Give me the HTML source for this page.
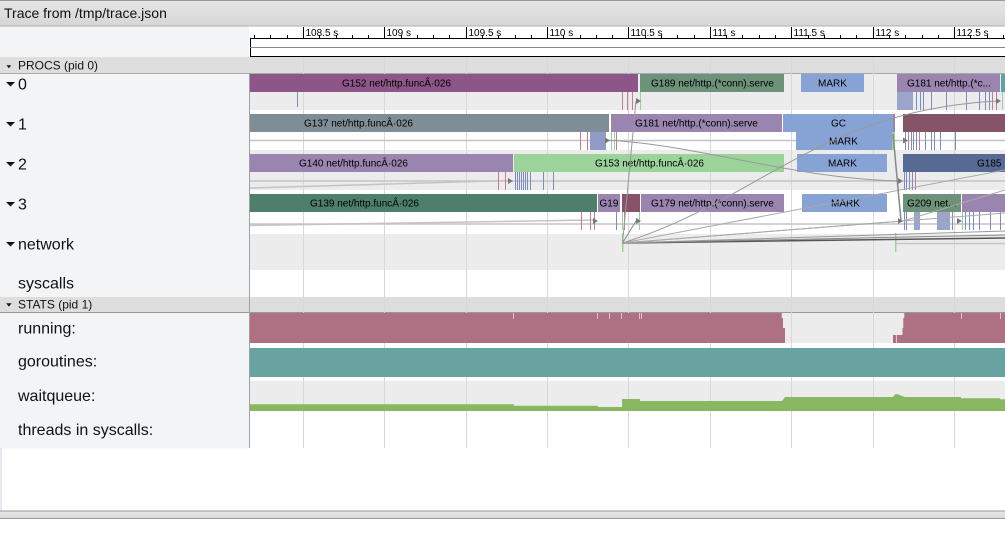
<!DOCTYPE html>
<html>
<head>
<meta charset="utf-8">
<style>
html,body{margin:0;padding:0;background:#fff;overflow:hidden;}
svg{display:block;}
text{font-family:"Liberation Sans",Arial,sans-serif;}
</style>
</head>
<body>
<svg width="1005" height="533" viewBox="0 0 1005 533" xmlns="http://www.w3.org/2000/svg">
<defs>
<linearGradient id="tg" x1="0" y1="0" x2="0" y2="1">
<stop offset="0" stop-color="#e6e6e6"/><stop offset="1" stop-color="#d6d6d6"/>
</linearGradient>
<linearGradient id="bg2" x1="0" y1="0" x2="0" y2="1">
<stop offset="0" stop-color="#e8e8e8"/><stop offset="1" stop-color="#d8d8d8"/>
</linearGradient>
</defs>

<!-- title bar -->
<rect x="0" y="0" width="1005" height="26" fill="url(#tg)"/>
<line x1="0" y1="0.5" x2="1005" y2="0.5" stroke="#9a9a9a"/>
<line x1="0" y1="26" x2="1005" y2="26" stroke="#b0b0b0"/>
<text x="4" y="18" font-size="14" fill="#111">Trace from /tmp/trace.json</text>

<!-- left panel bg -->
<rect x="0" y="26.5" width="249" height="422" fill="#f3f4f6"/>

<!-- ruler -->
<rect x="250" y="26.5" width="755" height="30" fill="#fff"/>
<g stroke="#000" stroke-width="1" shape-rendering="crispEdges">
<line x1="250" y1="38.5" x2="1005" y2="38.5"/>
<line x1="250" y1="56.5" x2="1005" y2="56.5"/>
<line x1="250.5" y1="38" x2="250.5" y2="57"/>
</g>
<line x1="250" y1="47.5" x2="1005" y2="47.5" stroke="#8a8a8a" shape-rendering="crispEdges"/>
<path stroke="#000" stroke-width="1" shape-rendering="crispEdges" fill="none" d="
M254.5 35V38 M270.5 35V38 M287.5 35V38
M319.5 35V38 M336.5 35V38 M352.5 35V38 M368.5 35V38
M401.5 35V38 M417.5 35V38 M433.5 35V38 M449.5 35V38
M482.5 35V38 M498.5 35V38 M515.5 35V38 M531.5 35V38
M563.5 35V38 M580.5 35V38 M596.5 35V38 M612.5 35V38
M645.5 35V38 M661.5 35V38 M677.5 35V38 M694.5 35V38
M726.5 35V38 M742.5 35V38 M759.5 35V38 M775.5 35V38
M808.5 35V38 M824.5 35V38 M840.5 35V38 M856.5 35V38
M889.5 35V38 M905.5 35V38 M922.5 35V38 M938.5 35V38
M970.5 35V38 M987.5 35V38 M1003.5 35V38
M303.5 27V38 M384.5 27V38 M466.5 27V38 M547.5 27V38 M628.5 27V38
M710.5 27V38 M791.5 27V38 M873.5 27V38 M954.5 27V38"/>
<g font-size="10" fill="#000">
<text x="305.5" y="36">108.5 s</text>
<text x="386.5" y="36">109 s</text>
<text x="468.5" y="36">109.5 s</text>
<text x="549.5" y="36">110 s</text>
<text x="630.5" y="36">110.5 s</text>
<text x="712.5" y="36">111 s</text>
<text x="793.5" y="36">111.5 s</text>
<text x="875.5" y="36">112 s</text>
<text x="956.5" y="36">112.5 s</text>
</g>

<!-- PROCS header -->
<rect x="0" y="57" width="1005" height="16" fill="#dedede"/>
<line x1="0" y1="73.5" x2="1005" y2="73.5" stroke="#a8a8a8" shape-rendering="crispEdges"/>
<path d="M6.5 65.3 L11.2 65.3 L8.85 68.2 Z" fill="#111"/>
<text x="18" y="69.5" font-size="12" fill="#111">PROCS (pid 0)</text>

<!-- row backgrounds -->
<rect x="250" y="74" width="755" height="36" fill="#ececec"/>
<rect x="250" y="110" width="755" height="40" fill="#fff"/>
<rect x="250" y="150" width="755" height="40" fill="#ececec"/>
<rect x="250" y="190" width="755" height="44" fill="#fff"/>
<rect x="250" y="234" width="755" height="36" fill="#ececec"/>
<rect x="250" y="270" width="755" height="27" fill="#fff"/>

<!-- STATS header -->
<rect x="0" y="297" width="1005" height="15" fill="#dddddd"/>
<line x1="0" y1="312.5" x2="1005" y2="312.5" stroke="#999" shape-rendering="crispEdges"/>
<path d="M6.2 303.3 L11.6 303.3 L8.9 306.6 Z" fill="#111"/>
<text x="18" y="308.3" font-size="12" fill="#111">STATS (pid 1)</text>

<!-- stats backgrounds -->
<rect x="250" y="313" width="755" height="135" fill="#fff"/>
<rect x="250" y="313" width="755" height="30" fill="#ececec"/>
<rect x="250" y="381" width="755" height="30" fill="#ececec"/>

<!-- grid lines -->
<path stroke="#d8d8d8" stroke-width="1" shape-rendering="crispEdges" d="
M303.5 57V448 M384.5 57V448 M466.5 57V448 M547.5 57V448 M628.5 57V448
M710.5 57V448 M791.5 57V448 M873.5 57V448 M954.5 57V448"/>

<!-- flow base lines -->
<g stroke="#c4c4c4" stroke-width="1.5" fill="none">
<line x1="250" y1="140.5" x2="1005" y2="140.5"/>
<line x1="250" y1="181" x2="1005" y2="181"/>
<line x1="250" y1="224" x2="1005" y2="224"/>
<line x1="250" y1="188" x2="510" y2="180.5"/>
<line x1="250" y1="225.5" x2="593" y2="220"/>
<line x1="895" y1="243.5" x2="1005" y2="243.5"/>
</g>

<!-- ROW 0 -->
<g shape-rendering="crispEdges">
<rect x="250" y="74" width="388" height="18" fill="#8c5689"/>
<rect x="640" y="74" width="144" height="18" fill="#6e917a"/>
<rect x="801" y="74" width="63" height="18" fill="#87a2d4"/>
<rect x="897" y="74" width="103" height="18" fill="#9a85b1"/>
<rect x="1001" y="74" width="4" height="18" fill="#5fa39c"/>
</g>
<g font-size="10" fill="#000">
<text x="342" y="86.6">G152 net/http.func&#194;&#183;026</text>
<text x="651" y="86.6">G189 net/http.(*conn).serve</text>
<text x="818" y="86.6">MARK</text>
<text x="907" y="86.6">G181 net/http.(*c...</text>
</g>
<g stroke-width="1" shape-rendering="crispEdges">
<path stroke="#7d8bc2" d="M297.5 92V107"/>
<path stroke="#c97a92" d="M622.5 92V110 M627.5 92V110 M632.5 92V110 M992.5 92V110 M996.5 92V110"/>
<path stroke="#9ad497" d="M640.5 92V110 M1002.5 92V110"/>
<rect x="897" y="92" width="16" height="18" fill="#9ba4ca"/>
<path stroke="#7d8bc2" d="M916.5 92V110 M920.5 92V110 M923.5 92V110 M931.5 92V110 M946.5 92V110 M966.5 92V110 M979.5 92V110 M985.5 92V110 M989.5 92V110"/>
</g>

<!-- ROW 1 -->
<g shape-rendering="crispEdges">
<rect x="250" y="114" width="359" height="18" fill="#7f8e96"/>
<rect x="611" y="114" width="171" height="18" fill="#9a85b1"/>
<rect x="783" y="114" width="110" height="18" fill="#87a2d4"/>
<rect x="893" y="114" width="2" height="18" fill="#9a85b1"/>
<rect x="903" y="114" width="102" height="18" fill="#855466"/>
<rect x="796" y="132" width="96" height="18" fill="#87a2d4"/>
<rect x="892" y="132" width="3" height="18" fill="#9ad497"/>
<rect x="590" y="132" width="16" height="18" fill="#8f9cc6"/>
</g>
<g font-size="10" fill="#000">
<text x="304" y="126.6">G137 net/http.func&#194;&#183;026</text>
<text x="635" y="126.6">G181 net/http.(*conn).serve</text>
<text x="831" y="126.6">GC</text>
<text x="829" y="144.6">MARK</text>
</g>
<g stroke-width="1" shape-rendering="crispEdges">
<path stroke="#c97a92" d="M580.5 132V150 M587.5 132V150 M616.5 132V150 M908.5 132V150 M919.5 132V150"/>
<path stroke="#9ad497" d="M611.5 132V150 M614.5 132V150"/>
<path stroke="#7d8bc2" d="M905.5 132V150 M911.5 132V150 M913.5 132V150 M916.5 132V150 M925.5 132V150 M931.5 132V150 M934.5 132V150 M940.5 132V150 M955.5 132V150"/>
</g>

<!-- ROW 2 -->
<g shape-rendering="crispEdges">
<rect x="250" y="154" width="263" height="18" fill="#9a85b1"/>
<rect x="514" y="154" width="270" height="18" fill="#9bd39a"/>
<rect x="797" y="154" width="90" height="18" fill="#87a2d4"/>
<rect x="903" y="154" width="102" height="18" fill="#576a93"/>
</g>
<g font-size="10" fill="#000">
<text x="299" y="166.6">G140 net/http.func&#194;&#183;026</text>
<text x="595" y="166.6">G153 net/http.func&#194;&#183;026</text>
<text x="828" y="166.6">MARK</text>
<text x="977" y="166.6">G185</text>
</g>
<g stroke-width="1" shape-rendering="crispEdges">
<path stroke="#c97a92" d="M498.5 172V190 M505.5 172V190 M915.5 172V190"/>
<path stroke="#7d8bc2" d="M515.5 172V190 M517.5 172V190 M519.5 172V190 M521.5 172V190 M523.5 172V190 M525.5 172V190 M527.5 172V190 M530.5 172V190 M543.5 172V190 M553.5 172V190 M904.5 172V190 M906.5 172V190 M909.5 172V190 M912.5 172V190"/>
</g>

<!-- ROW 3 -->
<g shape-rendering="crispEdges">
<rect x="250" y="194" width="347" height="18" fill="#4e7f6c"/>
<rect x="598" y="194" width="22" height="18" fill="#9a85b1"/>
<rect x="622" y="194" width="18" height="18" fill="#855466"/>
<rect x="641" y="194" width="143" height="18" fill="#9a85b1"/>
<rect x="802" y="194" width="85" height="18" fill="#87a2d4"/>
<rect x="903" y="194" width="58" height="18" fill="#6e917a"/>
<rect x="962" y="194" width="43" height="18" fill="#9a85b1"/>
<rect x="914" y="212" width="6" height="18" fill="#9ba4ca"/>
<rect x="937" y="212" width="13" height="18" fill="#9ba4ca"/>
</g>
<g font-size="10" fill="#000">
<text x="310" y="206.6">G139 net/http.func&#194;&#183;026</text>
<text x="599.5" y="206.6">G19</text>
<text x="651" y="206.6">G179 net/http.(*conn).serve</text>
<text x="831" y="206.6">MARK</text>
<text x="907" y="206.6">G209 net...</text>
</g>
<g stroke-width="1" shape-rendering="crispEdges">
<path stroke="#c97a92" d="M581.5 212V230 M590.5 212V230 M594.5 212V230 M624.5 212V230"/>
<path stroke="#9ad497" d="M622.5 212V230 M639.5 212V230 M962.5 212V230"/>
<path stroke="#7d8bc2" d="M616.5 212V230 M904.5 212V230 M906.5 212V230 M952.5 212V230 M965.5 212V230 M969.5 212V230 M973.5 212V230 M979.5 212V230 M990.5 212V230 M1000.5 212V230"/>
</g>

<!-- network -->
<g stroke-width="1.5" shape-rendering="crispEdges">
<path stroke="#9ad497" d="M622.5 233V252 M895.5 233V252"/>
</g>
<g fill="none" stroke-width="1">
<line x1="622.5" y1="243" x2="1005" y2="238" stroke="#555" stroke-width="1.5"/>
<line x1="622.5" y1="243" x2="1005" y2="235" stroke="#888"/>
<line x1="622.5" y1="243" x2="1005" y2="231" stroke="#999"/>
<line x1="622.5" y1="243" x2="903" y2="221" stroke="#999"/>
<line x1="622.5" y1="243" x2="1005" y2="213" stroke="#aaa"/>
<line x1="622.5" y1="243" x2="1005" y2="170" stroke="#aaa"/>
<line x1="622.5" y1="243" x2="636" y2="221" stroke="#888"/>
<line x1="622.5" y1="243" x2="636" y2="101" stroke="#999"/>
<path d="M622.5 243 C760 200 820 110 998 101" stroke="#999"/>
<path d="M606 140 C700 145 790 178 898 181" stroke="#999"/>
<line x1="893" y1="134" x2="901" y2="221" stroke="#888" stroke-width="1.5"/>
<line x1="903" y1="221" x2="1005" y2="190" stroke="#aaa"/>
</g>

<!-- arrows -->
<g fill="#777">
<path d="M636 98 L641 101 L636 104 Z"/>
<path d="M996 98 L1001 101 L996 104 Z"/>
<path d="M605 137.5 L610 140.5 L605 143.5 Z"/>
<path d="M903 137.5 L908 140.5 L903 143.5 Z"/>
<path d="M508 178 L513 181 L508 184 Z"/>
<path d="M898 178 L903 181 L898 184 Z"/>
<path d="M593 218 L598 221 L593 224 Z"/>
<path d="M636 218 L641 221 L636 224 Z"/>
<path d="M898 218 L903 221 L898 224 Z"/>
<path d="M957 218 L962 221 L957 224 Z"/>
</g>

<!-- stats: running -->
<path fill="#ae7083" d="M250 343 L250 313 L781.7 313 L781.7 318 L783 318 L783 328 L785 328 L785 343 Z"/>
<path fill="#ae7083" d="M893 343 L893 335 L902.5 335 L902.5 328 L903.3 328 L903.3 318 L904.3 318 L904.3 313 L1005 313 L1005 343 Z"/>
<path stroke="#dcc4cc" stroke-width="1" shape-rendering="crispEdges" d="M513.5 313V319 M597.5 313V319 M609.5 313V319 M621.5 313V319 M639.5 313V319 M641.5 313V319 M961.5 313V319 M1000.5 313V319 M896.5 335V343"/>
<!-- goroutines -->
<rect x="250" y="348" width="755" height="29" fill="#68a3a1"/>
<!-- waitqueue -->
<path fill="#8ab862" d="M250 411 L250 404.3 L514 404.3 L514 405.7 L598 405.7 L598 407 L622 407 L622 399 L640 399 L640 401 L782 401 L785 397 L893 397 L895 394.3 L898 394.3 L901 395.5 L905 397 L961 397 L961 398.3 L1000 398.3 L1000 399.3 L1005 399.3 L1005 411 Z"/>

<!-- left panel border -->
<line x1="249.5" y1="73" x2="249.5" y2="448" stroke="#a0a0a0" shape-rendering="crispEdges"/>
<rect x="0" y="448" width="2" height="63" fill="#e6eaf0"/>

<!-- left labels -->
<g fill="#111">
<path d="M6 82 L15 82 L10.5 86.5 Z"/>
<path d="M6 122 L15 122 L10.5 126.5 Z"/>
<path d="M6 162 L15 162 L10.5 166.5 Z"/>
<path d="M6 202 L15 202 L10.5 206.5 Z"/>
<path d="M6 242 L15 242 L10.5 246.5 Z"/>
</g>
<g font-size="16" fill="#111">
<text x="18" y="89.3">0</text>
<text x="18" y="129.3">1</text>
<text x="18" y="169.3">2</text>
<text x="18" y="209.3">3</text>
<text x="18" y="249.3">network</text>
<text x="18" y="288.5">syscalls</text>
<text x="18" y="333.3">running:</text>
<text x="18" y="366.7">goroutines:</text>
<text x="18" y="401">waitqueue:</text>
<text x="18" y="435">threads in syscalls:</text>
</g>

<!-- bottom bar -->
<rect x="0" y="511" width="1005" height="7.5" fill="url(#bg2)"/>
<line x1="0" y1="511" x2="1005" y2="511" stroke="#9a9a9a" shape-rendering="crispEdges"/>
<line x1="0" y1="518.5" x2="1005" y2="518.5" stroke="#9a9a9a" shape-rendering="crispEdges"/>
</svg>
</body>
</html>
